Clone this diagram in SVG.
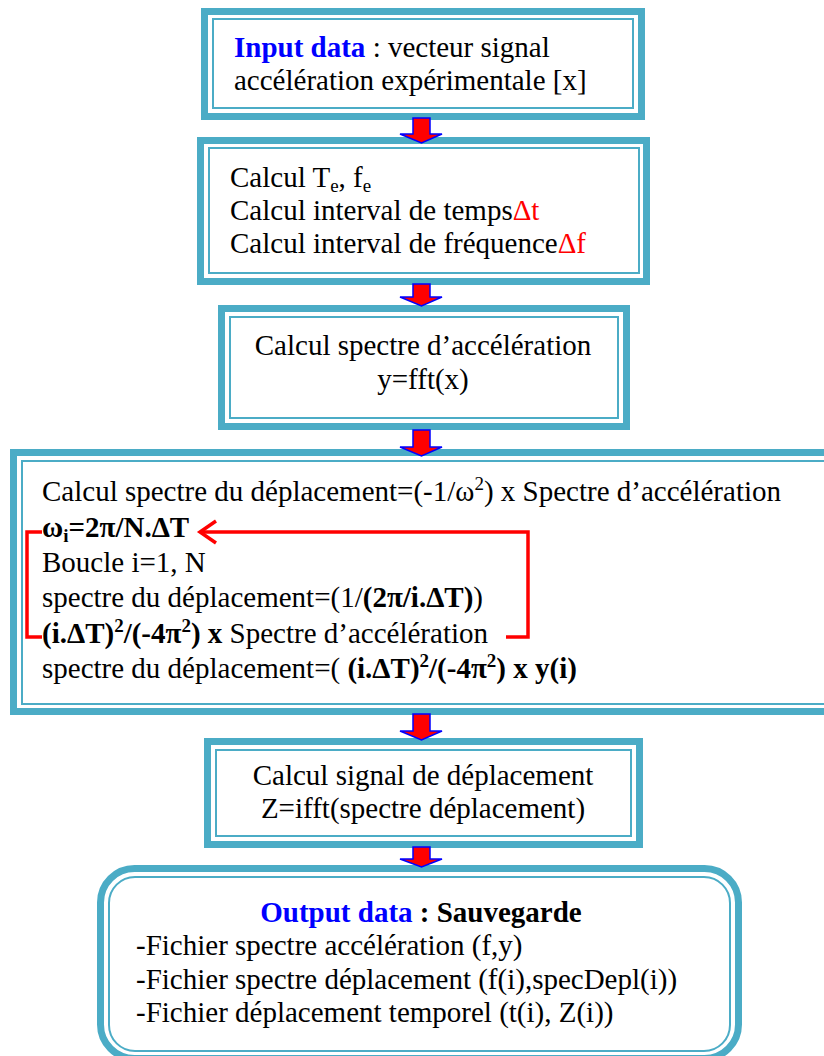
<svg xmlns="http://www.w3.org/2000/svg" width="824" height="1056" viewBox="0 0 824 1056">
<defs>
<style>
.outer{fill:#fff;stroke:#4BACC6;stroke-width:7}
.inner{fill:none;stroke:#4BACC6;stroke-width:2}
text{font-family:"Liberation Serif","Times New Roman",serif;font-size:29px;fill:#000}
.b{font-weight:bold}
.blue{fill:#0000FF;font-weight:bold}
.red{fill:#FF0000}
.arrow{fill:#FF0000;stroke:#0000FF;stroke-width:1.5}
.loop{fill:none;stroke:#FF0000;stroke-width:3.5}
</style>
</defs>
<g id="node-input">
<rect class="outer" x="204.5" y="11.5" width="437" height="105"/>
<rect class="inner" x="213" y="19" width="420" height="89"/>
<text x="234" y="57"><tspan class="blue">Input data</tspan> : vecteur signal</text>
<text x="234" y="90">accélération expérimentale [x]</text>
</g>
<g id="node-calcul-te">
<rect class="outer" x="200.5" y="140.5" width="446" height="141"/>
<rect class="inner" x="209" y="148" width="430" height="125"/>
<text x="230" y="187">Calcul T<tspan dy="5" font-size="19">e</tspan><tspan dy="-5">, f</tspan><tspan dy="5" font-size="19">e</tspan></text>
<text x="230" y="220">Calcul interval de temps<tspan class="red">Δt</tspan></text>
<text x="230" y="253">Calcul interval de fréquence<tspan class="red">Δf</tspan></text>
</g>
<g id="node-spectre-acc">
<rect class="outer" x="221.5" y="308.5" width="405" height="118"/>
<rect class="inner" x="230" y="317" width="388" height="101"/>
<text x="423" y="355" text-anchor="middle">Calcul spectre d’accélération</text>
<text x="423" y="389" text-anchor="middle">y=fft(x)</text>
</g>
<g id="node-spectre-depl">
<rect class="outer" x="13.5" y="452.5" width="820" height="259"/>
<rect class="inner" x="22" y="461" width="810" height="243"/>
<text x="42" y="501">Calcul spectre du déplacement=(-1/ω<tspan dy="-11" font-size="19">2</tspan><tspan dy="11">) x Spectre d’accélération</tspan></text>
<text x="42" y="537" class="b">ω<tspan dy="5" font-size="19">i</tspan><tspan dy="-5">=2π/N.ΔT</tspan></text>
<text x="42" y="572">Boucle i=1, N</text>
<text x="42" y="607">spectre du déplacement=(1/<tspan class="b">(2π/i.ΔT)</tspan>)</text>
<text x="42" y="643"><tspan class="b">(i.ΔT)</tspan><tspan class="b" dy="-11" font-size="19">2</tspan><tspan class="b" dy="11">/(-4π</tspan><tspan class="b" dy="-11" font-size="19">2</tspan><tspan class="b" dy="11">) x</tspan> Spectre d’accélération</text>
<text x="42" y="678">spectre du déplacement=( <tspan class="b">(i.ΔT)</tspan><tspan class="b" dy="-11" font-size="19">2</tspan><tspan class="b" dy="11">/(-4π</tspan><tspan class="b" dy="-11" font-size="19">2</tspan><tspan class="b" dy="11">) x y(i)</tspan></text>
</g>
<g id="node-signal-depl">
<rect class="outer" x="207.5" y="741.5" width="432" height="103"/>
<rect class="inner" x="216" y="750" width="415" height="86"/>
<text x="423" y="785" text-anchor="middle">Calcul signal de déplacement</text>
<text x="423" y="818" text-anchor="middle">Z=ifft(spectre déplacement)</text>
</g>
<g id="node-output">
<rect class="outer" x="100.5" y="868.5" width="638" height="190" rx="34" ry="34"/>
<rect class="inner" x="109" y="877" width="621" height="174" rx="26" ry="26"/>
<text x="421" y="922" text-anchor="middle"><tspan class="blue">Output data</tspan><tspan class="b"> : Sauvegarde</tspan></text>
<text x="136" y="955">-Fichier spectre accélération (f,y)</text>
<text x="136" y="989">-Fichier spectre déplacement (f(i),specDepl(i))</text>
<text x="136" y="1022">-Fichier déplacement temporel (t(i), Z(i))</text>
</g>
<g id="connectors">
<polygon class="arrow" points="413,118 430,118 430,134 442,134 421.5,143 400,134 413,134"/>
<polygon class="arrow" points="413,284 430,284 430,297 442,297 421.5,306 400,297 413,297"/>
<polygon class="arrow" points="413,430 430,430 430,447 442,447 421.5,456 400,447 413,447"/>
<polygon class="arrow" points="413,714 430,714 430,731 442,731 421.5,740 400,731 413,731"/>
<polygon class="arrow" points="413,847 430,847 430,859 442,859 421.5,867 400,859 413,859"/>
<polyline class="loop" points="506,637 528,637 528,532 200,532"/>
<polyline class="loop" points="216,521 200,532 216,543"/>
<polyline class="loop" points="42,532 27,532 27,637 42,637"/>
</g>
</svg>
